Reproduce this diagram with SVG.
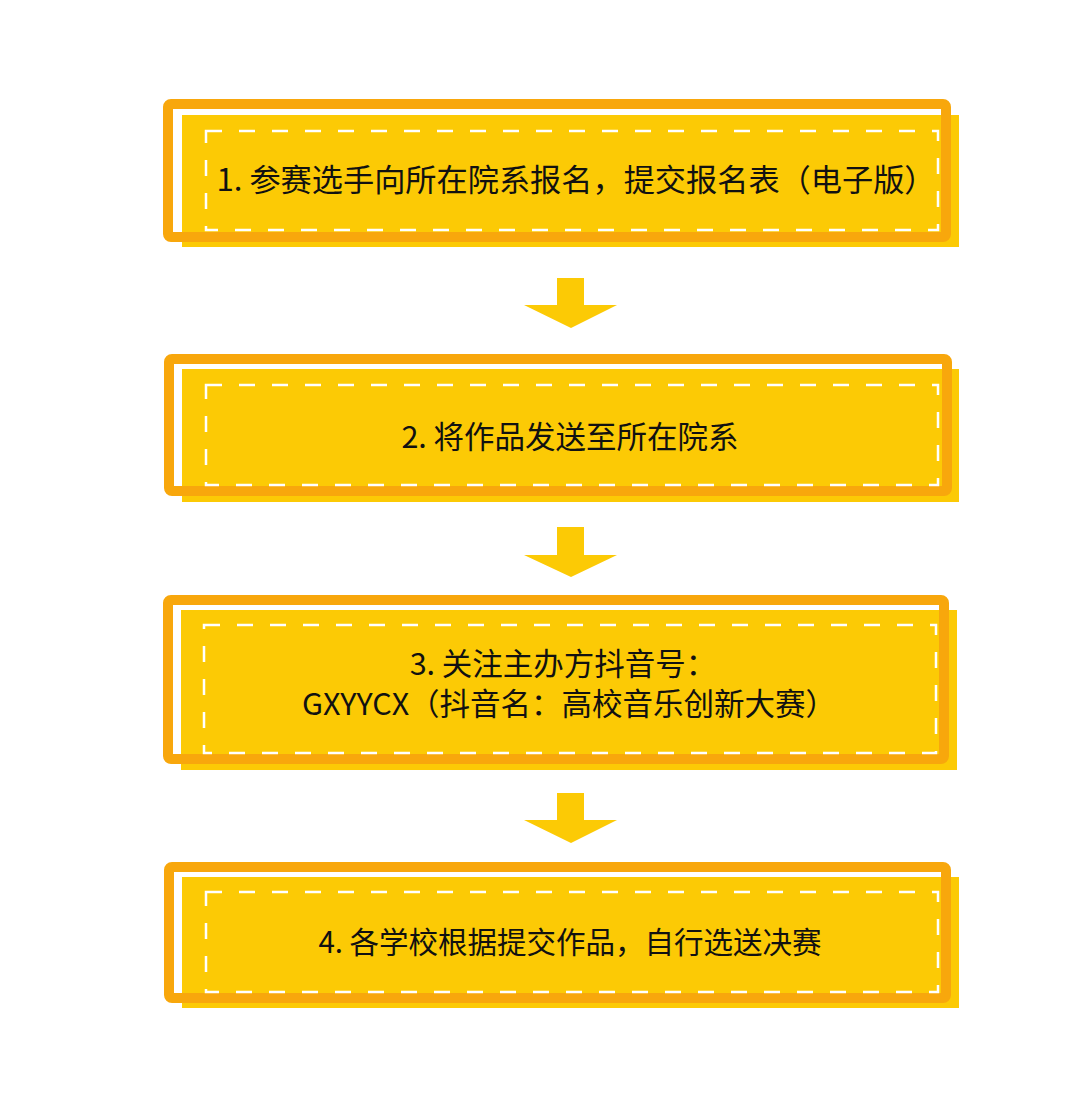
<svg xmlns="http://www.w3.org/2000/svg" width="1080" height="1116" viewBox="0 0 1080 1116">
<style>
.fill{fill:#FCCA05}
.frame{fill:none;stroke:#F8A70C;stroke-width:10}
.dash{fill:none;stroke:#FFFFFF;stroke-width:2.5;stroke-dasharray:16 17}
.lbl{font-family:"Noto Sans CJK SC","Noto Sans",sans-serif;font-size:30.5px;fill:#111111;text-anchor:middle}
.arrow{fill:#FCCA05}
</style>
<rect width="1080" height="1116" fill="#FFFFFF"/>
<g id="node1">
<rect class="fill" x="182" y="115" width="777" height="132"/>
<rect class="frame" x="168" y="104" width="778" height="133" rx="3"/>
<rect class="dash" x="206" y="131" width="732" height="99"/>
<text class="lbl" x="576" y="191" style="font-size:31.2px">1. 参赛选手向所在院系报名，提交报名表（电子版）</text>
</g>
<g id="node2">
<rect class="fill" x="182" y="369" width="777" height="133"/>
<rect class="frame" x="169" y="359" width="778" height="132" rx="3"/>
<rect class="dash" x="206" y="385" width="732" height="100"/>
<text class="lbl" x="570" y="448">2. 将作品发送至所在院系</text>
</g>
<g id="node3">
<rect class="fill" x="181" y="610" width="776" height="160"/>
<rect class="frame" x="168" y="600" width="776" height="159" rx="3"/>
<rect class="dash" x="204" y="625" width="732" height="128"/>
<text class="lbl"><tspan x="563" y="675">3. 关注主办方抖音号：</tspan><tspan x="569" y="715">GXYYCX（抖音名：高校音乐创新大赛）</tspan></text>
</g>
<g id="node4">
<rect class="fill" x="182" y="877" width="777" height="131"/>
<rect class="frame" x="169" y="867" width="777" height="131" rx="3"/>
<rect class="dash" x="206" y="892" width="732" height="100"/>
<text class="lbl" x="570" y="953" style="font-size:29.5px">4. 各学校根据提交作品，自行选送决赛</text>
</g>
<g id="connectors">
<polygon class="arrow" points="557,278 584,278 584,305 617,305 571,328 524,305 557,305"/>
<polygon class="arrow" points="557,527 584,527 584,555 617,555 571,577 524,555 557,555"/>
<polygon class="arrow" points="557,793 584,793 584,820 617,820 571,843 524,820 557,820"/>
</g>
</svg>
